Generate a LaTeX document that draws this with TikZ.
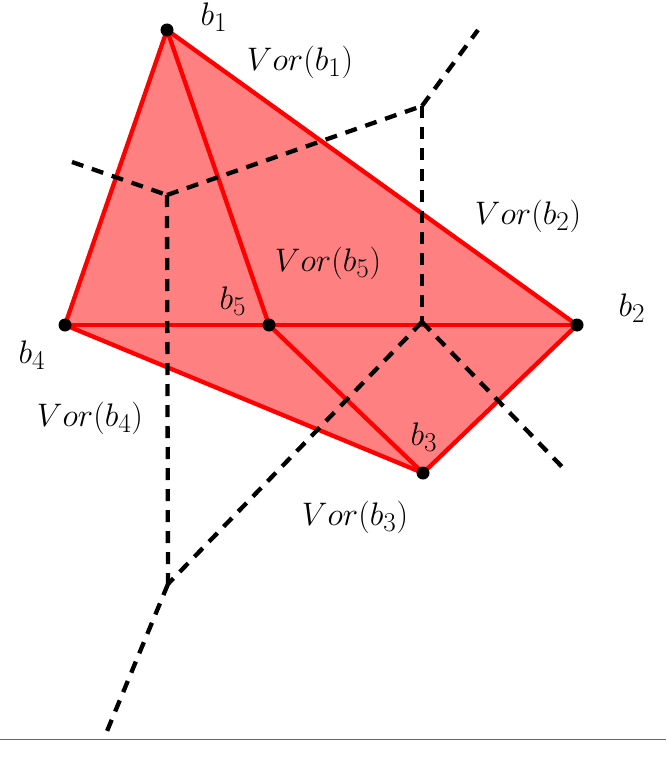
\documentclass[tikz,border=0pt]{standalone}
\begin{document}
\begin{tikzpicture}[x=1pt,y=-1pt,
  edge/.style={red,line width=4.3pt},
  vor/.style={black,line width=4.3pt,dash pattern=on 12pt off 9pt},
  site/.style={circle,fill=black,inner sep=0pt,minimum size=13pt},
  lab/.style={font=\Huge,scale=1.31,inner sep=0pt}]
\useasboundingbox (0,0) rectangle (666,770);
% sites
\coordinate (b1) at (167,30);
\coordinate (b2) at (577,325);
\coordinate (b3) at (423,473);
\coordinate (b4) at (65,325);
\coordinate (b5) at (269,325);
% filled hull
\fill[red!50] (b1) -- (b2) -- (b3) -- (b4) -- cycle;
% triangulation edges
\draw[edge] (b1) -- (b2) -- (b3) -- (b4) -- cycle;
\draw[edge] (b1) -- (b5);
\draw[edge] (b4) -- (b2);
\draw[edge] (b5) -- (b3);
% voronoi vertices
\coordinate (v1) at (167,195);
\coordinate (v2) at (422,106);
\coordinate (v3) at (422,322);
\coordinate (v4) at (168,584);
\coordinate (e1) at (72,162);
\coordinate (e2) at (478,30);
\coordinate (e3) at (567,472);
\coordinate (e4) at (105,736);
\draw[vor] (e1) -- (v1);
\draw[vor] (v1) -- (v2);
\draw[vor] (v2) -- (e2);
\draw[vor] (v2) -- (v3);
\draw[vor] (v3) -- (e3);
\draw[vor] (v3) -- (v4);
\draw[vor] (v1) -- (v4);
\draw[vor] (v4) -- (e4);
% site dots
\foreach \p in {b1,b2,b3,b4,b5} \node[site] (d\p) at (\p) {};
% labels
\node[lab] (l1) at (214,17) {$b_1$};
\node[lab] (l2) at (632,308) {$b_2$};
\node[lab] (l3) at (424,437) {$b_3$};
\node[lab] (l4) at (32,355) {$b_4$};
\node[lab] (l5) at (233,301) {$b_5$};
\node[lab] (w1) at (300,62) {$Vor(b_1)$};
\node[lab] (w2) at (528,216) {$Vor(b_2)$};
\node[lab] (w3) at (355,517) {$Vor(b_3)$};
\node[lab] (w4) at (90,418) {$Vor(b_4)$};
\node[lab] (w5) at (328,263) {$Vor(b_5)$};
% bottom rule
\coordinate (r1) at (0,739);
\coordinate (r2) at (666,739);
\draw[black!60,line width=1pt] (r1) -- (r2);
\end{tikzpicture}
\end{document}
